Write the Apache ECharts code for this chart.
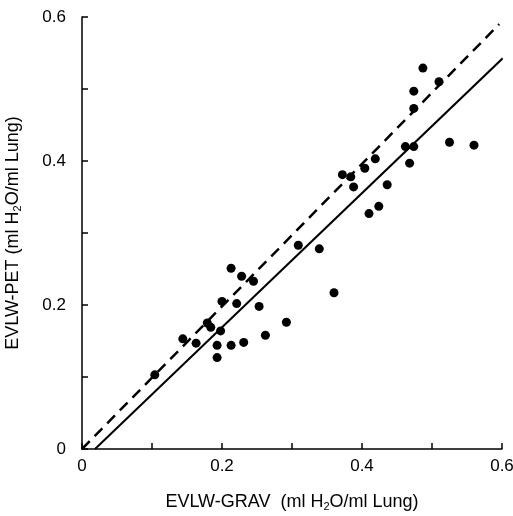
<!DOCTYPE html>
<html><head><meta charset="utf-8">
<script src="https://cdn.jsdelivr.net/npm/echarts@6/dist/echarts.min.js"></script>
<style>html,body{margin:0;padding:0;background:#fff}#c{width:513px;height:516px}</style>
</head><body><div id="c"></div>
<script>
const grav = [0.104,0.144,0.163,0.179,0.184,0.198,0.193,0.193,0.213,0.231,0.262,0.292,0.200,0.221,0.253,0.213,0.228,0.245,0.309,0.339,0.360,0.372,0.384,0.388,0.404,0.419,0.410,0.424,0.436,0.462,0.474,0.468,0.474,0.474,0.487,0.510,0.525,0.560];
const pet  = [0.103,0.153,0.147,0.175,0.169,0.164,0.144,0.127,0.144,0.148,0.158,0.176,0.205,0.202,0.198,0.251,0.240,0.233,0.283,0.278,0.217,0.381,0.378,0.364,0.390,0.403,0.327,0.337,0.367,0.420,0.420,0.397,0.473,0.497,0.529,0.510,0.426,0.422];
const identityX = [0, 0.596];
const identityY = [0, 0.590];
const regX = [0.0186, 0.601];
const regY = [0, 0.5426];
const tickValues = [0, 0.1, 0.2, 0.3, 0.4, 0.5, 0.6];

const pts = grav.map((x, i) => [x, pet[i]]);
const fmt = v => {
  const r = Math.round(v * 10);
  if (r % 2 !== 0) return '';
  return r === 0 ? '0' : (r / 10).toString();
};
const font = 'Liberation Sans';
const axisCommon = {
  type: 'value', min: tickValues[0], max: tickValues[tickValues.length - 1], interval: 0.1,
  splitLine: {show: false},
  axisLine: {show: true, lineStyle: {color: '#000', width: 1.5}},
  axisTick: {show: true, inside: true, length: 6, lineStyle: {color: '#000', width: 1.5}},
  axisLabel: {formatter: fmt, color: '#000', fontSize: 17, fontFamily: font, showMinLabel: true, showMaxLabel: true},
  nameLocation: 'middle',
  nameTextStyle: {
    color: '#000', fontFamily: font,
    rich: {
      a: {fontSize: 18, fontFamily: font, color: '#000', lineHeight: 22},
      s: {fontSize: 11, fontFamily: font, color: '#000', lineHeight: 22, padding: [10, 0, 0, 0]}
    }
  }
};
const chart = echarts.init(document.getElementById('c'));
chart.setOption({
  animation: false,
  grid: {left: 82, right: 11, top: 17, bottom: 67, containLabel: false, outerBoundsMode: 'none'},
  xAxis: Object.assign({}, axisCommon, {
    name: '{a|EVLW-GRAV  (ml H}{s|2}{a|O/ml Lung)}', nameGap: 42,
    axisLabel: Object.assign({}, axisCommon.axisLabel, {margin: 9})
  }),
  yAxis: Object.assign({}, axisCommon, {
    name: '{a|EVLW-PET (ml H}{s|2}{a|O/ml Lung)}', nameGap: 58, nameRotate: 90,
    axisLabel: Object.assign({}, axisCommon.axisLabel, {margin: 16})
  }),
  series: [
    {type: 'line', data: identityX.map((x, i) => [x, identityY[i]]), symbol: 'none',
     lineStyle: {color: '#000', width: 2.5, type: [11, 7]}},
    {type: 'line', data: regX.map((x, i) => [x, regY[i]]), symbol: 'none',
     lineStyle: {color: '#000', width: 2}},
    {type: 'scatter', data: pts, symbol: 'circle', symbolSize: 9, itemStyle: {color: '#000', opacity: 1}}
  ]
});
</script></body></html>
